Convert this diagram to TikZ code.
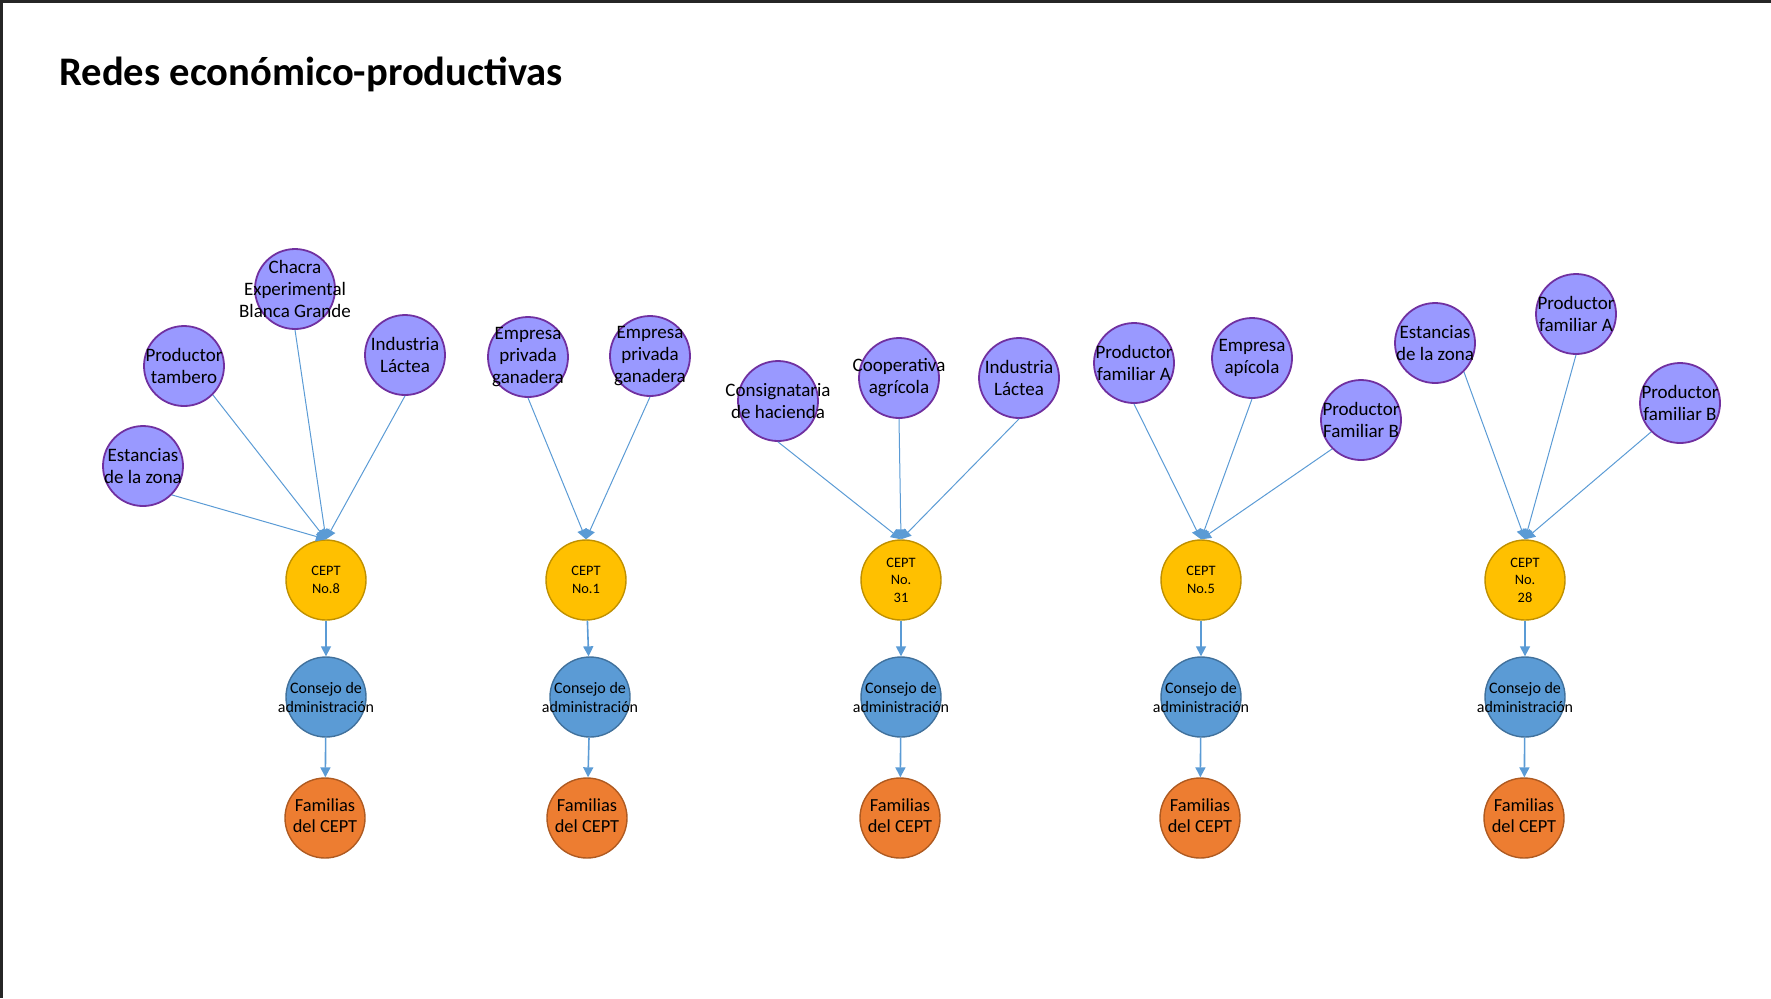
\documentclass[tikz,border=0pt]{standalone}
\usepackage{fontspec}
\setmainfont{Carlito}
\usepackage{xcolor}
\usepackage{tikz}
\usetikzlibrary{arrows.meta}
\definecolor{actorfill}{HTML}{9999FF}
\definecolor{actorline}{HTML}{7030A0}
\definecolor{ceptfill}{HTML}{FFC000}
\definecolor{ceptline}{HTML}{BF9000}
\definecolor{admfill}{HTML}{5B9BD5}
\definecolor{admline}{HTML}{41719C}
\definecolor{famfill}{HTML}{ED7D31}
\definecolor{famline}{HTML}{AE5A21}
\definecolor{arrblue}{HTML}{5B9BD5}
\tikzset{
  actor/.style={circle,draw=actorline,fill=actorfill,line width=0.9pt,minimum size=40pt,inner sep=0pt},
  actortext/.style={align=center,inner sep=0pt,font=\fontsize{9.5}{11}\selectfont},
  ceptnode/.style={circle,draw=ceptline,fill=ceptfill,line width=0.7pt,minimum size=40pt,inner sep=0pt,align=center,font=\fontsize{7.2}{8.8}\selectfont},
  admnode/.style={circle,draw=admline,fill=admfill,line width=0.7pt,minimum size=40pt,inner sep=0pt},
  admtext/.style={align=center,inner sep=0pt,font=\fontsize{8}{9.5}\selectfont},
  famnode/.style={circle,draw=famline,fill=famfill,line width=0.7pt,minimum size=40pt,inner sep=0pt},
  famtext/.style={align=center,inner sep=0pt,font=\fontsize{9.2}{10.5}\selectfont},
  linkarr/.style={-{Triangle[length=5pt,width=5pt]},draw=arrblue,line width=0.5pt},
  chainarr/.style={-{Triangle[length=5pt,width=5pt]},draw=arrblue,line width=0.8pt}
}

\begin{document}
\begin{tikzpicture}[x=0.5pt,y=-0.5pt]
\useasboundingbox (0,0) rectangle (1771,998);
\draw[line width=1.2pt,black!85] (0,1.5) -- (1771,1.5);
\draw[line width=1.2pt,black!85] (1.5,0) -- (1.5,998);
\node[anchor=base west,inner sep=0pt,font=\fontsize{20.3}{24}\selectfont\bfseries] (title) at (59,85) {Redes económico-productivas};

\foreach \n/\xc/\xa/\xf/\lbl in {8/326/326/325/{No.8}, 1/586/590/587/{No.1}, 31/901/901/900/{No.\\31}, 5/1201/1201/1200/{No.5}, 28/1525/1525/1524/{No.\\28}} {
  \node[ceptnode] (cept\n) at (\xc,580) {CEPT\\\lbl};
  \node[admnode,label={[admtext]center:Consejo de\\administración}] (adm\n) at (\xa,697) {};
  \node[famnode,label={[famtext,yshift=1pt]center:Familias\\del CEPT}] (fam\n) at (\xf,818) {};
  \draw[chainarr] (cept\n) -- (adm\n);
  \draw[chainarr] (adm\n) -- (fam\n);
}

\node[actor,label={[actortext]center:Estancias\\de la zona}] (src8a) at (143,466) {};
\node[actor,label={[actortext]center:Productor\\tambero}] (src8b) at (184,366) {};
\node[actor,label={[actortext]center:Chacra\\Experimental\\Blanca Grande}] (src8c) at (295,289) {};
\node[actor,label={[actortext]center:Industria\\Láctea}] (src8d) at (405,355) {};

\node[actor,label={[actortext]center:Empresa\\privada\\ganadera}] (src1a) at (528,357) {};
\node[actor,label={[actortext]center:Empresa\\privada\\ganadera}] (src1b) at (650,356) {};

\node[actor,label={[actortext]center:Consignataria\\de hacienda}] (src31a) at (778,401) {};
\node[actor,label={[actortext]center:Cooperativa\\agrícola}] (src31b) at (899,378) {};
\node[actor,label={[actortext]center:Industria\\Láctea}] (src31c) at (1019,378) {};

\node[actor,label={[actortext]center:Productor\\familiar A}] (src5a) at (1134,363) {};
\node[actor,label={[actortext]center:Empresa\\apícola}] (src5b) at (1252,358) {};
\node[actor,label={[actortext]center:Productor\\Familiar B}] (src5c) at (1361,420) {};

\node[actor,label={[actortext]center:Estancias\\de la zona}] (src28a) at (1435,343) {};
\node[actor,label={[actortext]center:Productor\\familiar A}] (src28b) at (1576,314) {};
\node[actor,label={[actortext]center:Productor\\familiar B}] (src28c) at (1680,403) {};

\foreach \s/\a/\t in {8a/south east/8,8b/south east/8,8c/south/8,8d/south/8,1a/south/1,1b/south/1,31a/south/31,31b/south/31,31c/south/31,5a/south/5,5b/south/5,5c/south west/5,28a/south east/28,28b/south/28,28c/south west/28}
  \draw[linkarr] (src\s.\a) -- (cept\t.north);
\end{tikzpicture}
\end{document}
